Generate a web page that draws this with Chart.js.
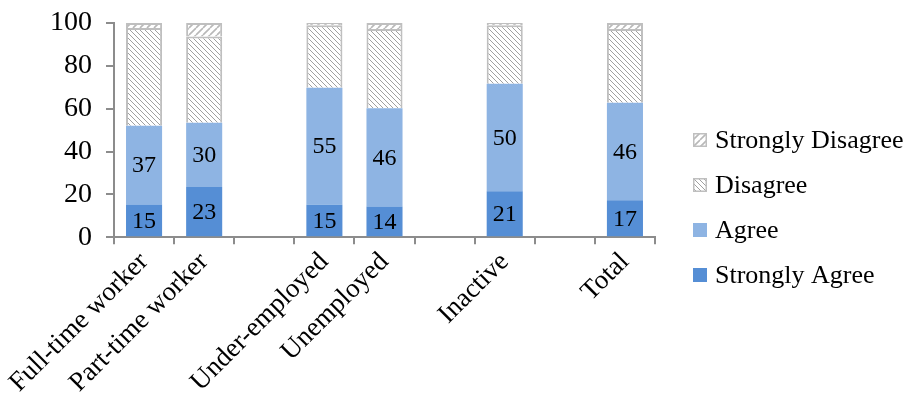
<!DOCTYPE html>
<html>
<head>
<meta charset="utf-8">
<script src="https://cdn.jsdelivr.net/npm/chart.js@4.4.1/dist/chart.umd.min.js"></script>
<style>
  html, body { margin: 0; padding: 0; background: #ffffff; }
  #wrap { width: 909px; height: 396px; position: relative; }
</style>
</head>
<body>
<div id="wrap"><canvas id="c" width="909" height="396"></canvas></div>
<script>
// ---- data ----
const categories = ["Full-time worker", "Part-time worker", "", "Under-employed", "Unemployed", "", "Inactive", "", "Total"];
const stronglyAgree    = [15.3, 23.4, null, 15.2, 14.3, null, 21.4, null, 17.2];
const agree            = [36.7, 30.0, null, 54.6, 45.9, null, 50.2, null, 45.6];
const disagree         = [45.7, 40.3, null, 29.1, 37.0, null, 27.3, null, 34.4];
const stronglyDisagree = [2.3, 6.3, null, 1.1, 2.8, null, 1.1, null, 2.8];
const seriesNames = ["Strongly Agree", "Agree", "Disagree", "Strongly Disagree"];
const yTicks = [0, 20, 40, 60, 80, 100];

const FONT = "'Liberation Serif', 'Times New Roman', serif";

const tmp = document.createElement('canvas').getContext('2d');
function makePattern(dir, size, color, lw) {
  const c = document.createElement('canvas');
  c.width = size; c.height = size;
  const g = c.getContext('2d');
  g.fillStyle = '#ffffff';
  g.fillRect(0, 0, size, size);
  g.strokeStyle = color;
  g.lineWidth = lw;
  g.beginPath();
  for (const k of [-size, 0, size]) {
    if (dir === 'back') { g.moveTo(k, 0); g.lineTo(k + size, size); }
    else { g.moveTo(k, size); g.lineTo(k + size, 0); }
  }
  g.stroke();
  return tmp.createPattern(c, 'repeat');
}
const patDisagree = makePattern('back', 5, '#a0a0a0', 1);
const patStrongDis = makePattern('fwd', 7, '#b8b8b8', 1.6);

const labelPlugin = {
  id: 'segLabels',
  afterDatasetsDraw(chart) {
    const ctx = chart.ctx;
    ctx.save();
    ctx.font = "24px " + FONT;
    ctx.fillStyle = '#000000';
    ctx.textAlign = 'center';
    ctx.textBaseline = 'middle';
    [0, 1].forEach(di => {
      const meta = chart.getDatasetMeta(di);
      const data = chart.data.datasets[di].data;
      meta.data.forEach((el, i) => {
        if (data[i] == null) return;
        const p = el.getProps(['x', 'y', 'base'], true);
        ctx.fillText(String(Math.round(data[i])), p.x, (p.y + p.base) / 2 + 1);
      });
    });
    ctx.restore();
  }
};

const legendPlugin = {
  id: 'sideLegend',
  afterDraw(chart) {
    const ctx = chart.ctx;
    const ds = chart.data.datasets;
    const x0 = 693, y0 = 140, step = 45;
    ctx.save();
    ctx.font = "26px " + FONT;
    ctx.textBaseline = 'middle';
    ctx.textAlign = 'left';
    for (let j = 0; j < ds.length; j++) {
      const d = ds[ds.length - 1 - j];
      const yc = y0 + j * step;
      ctx.fillStyle = d.backgroundColor;
      ctx.fillRect(x0, yc - 7, 14, 14);
      if (d.borderWidth) {
        ctx.strokeStyle = d.borderColor;
        ctx.lineWidth = 1.5;
        ctx.strokeRect(x0 + 0.75, yc - 6.25, 12.5, 12.5);
      }
      ctx.fillStyle = '#000000';
      ctx.fillText(d.label, 715, yc + 1);
    }
    ctx.restore();
  }
};

new Chart(document.getElementById('c'), {
  type: 'bar',
  data: {
    labels: categories,
    datasets: [
      { label: seriesNames[0], data: stronglyAgree, backgroundColor: '#558ed5', borderWidth: 0 },
      { label: seriesNames[1], data: agree, backgroundColor: '#8eb4e3', borderWidth: 0 },
      { label: seriesNames[2], data: disagree, backgroundColor: patDisagree, borderColor: '#bfbfbf', borderWidth: 2 },
      { label: seriesNames[3], data: stronglyDisagree, backgroundColor: patStrongDis, borderColor: '#bfbfbf', borderWidth: 2 }
    ]
  },
  options: {
    responsive: false,
    animation: false,
    devicePixelRatio: 1,
    datasets: { bar: { categoryPercentage: 1.0, barPercentage: 0.6 } },
    layout: { padding: { left: 36, right: 254, top: 0, bottom: -5 } },
    plugins: { legend: { display: false }, tooltip: { enabled: false } },
    scales: {
      x: {
        stacked: true,
        offset: true,
        grid: { display: true, offset: true, drawOnChartArea: false, drawTicks: true, tickLength: 7, color: '#8c8c8c', lineWidth: 2 },
        border: { display: true, color: '#8c8c8c', width: 2 },
        ticks: { autoSkip: false, minRotation: 45, maxRotation: 45, padding: 2, color: '#000000', font: { family: FONT, size: 27 } }
      },
      y: {
        stacked: true,
        min: 0, max: 100,
        afterBuildTicks(scale) { scale.ticks = yTicks.map(v => ({ value: v })); },
        afterFit(scale) { scale.paddingTop = 23; },
        grid: { display: true, drawOnChartArea: false, drawTicks: true, tickLength: 8, color: '#8c8c8c', lineWidth: 2 },
        border: { display: true, color: '#8c8c8c', width: 2 },
        ticks: { padding: 14, color: '#000000', font: { family: FONT, size: 28 } }
      }
    }
  },
  plugins: [labelPlugin, legendPlugin]
});
</script>
</body>
</html>
